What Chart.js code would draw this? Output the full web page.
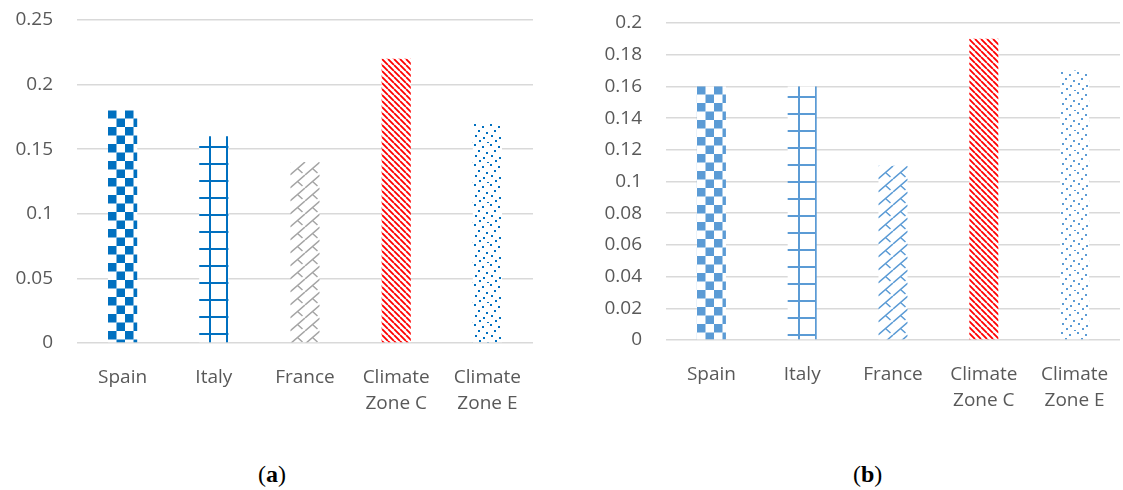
<!DOCTYPE html>
<html>
<head>
<meta charset="utf-8">
<script src="https://cdn.jsdelivr.net/npm/chart.js@4/dist/chart.umd.min.js"></script>
<style>
  body { margin: 0; background: #fff; width: 1123px; height: 490px; position: relative; overflow: hidden; }
  .painel { position: absolute; top: 0; height: 420px; }
  #painelA { left: 0; width: 560px; }
  #painelB { left: 560px; width: 563px; }
  .legenda { position: absolute; top: 461px; font-family: "Liberation Serif", serif; font-size: 24px; color: #000; }
  .legenda b { font-weight: bold; }
</style>
</head>
<body>
<div class="painel" id="painelA"><canvas id="graficoA" width="560" height="420"></canvas></div>
<div class="painel" id="painelB"><canvas id="graficoB" width="563" height="420"></canvas></div>
<div class="legenda" style="left:258px">(<b>a</b>)</div>
<div class="legenda" style="left:853px">(<b>b</b>)</div>
<script>
// Dados
const categorias = [["Spain"], ["Italy"], ["France"], ["Climate", "Zone C"], ["Climate", "Zone E"]];
const valoresA = [0.18, 0.16, 0.14, 0.22, 0.17];
const valoresB = [0.16, 0.16, 0.11, 0.19, 0.17];
const eixoA = { max: 0.25, passo: 0.05 };
const eixoB = { max: 0.2, passo: 0.02 };

// =============================
// Padrões das barras
// =============================
function criarPadrao(w, h, desenhar) {
    const c = document.createElement("canvas");
    c.width = w; c.height = h;
    const g = c.getContext("2d");
    g.fillStyle = "#fff";
    g.fillRect(0, 0, w, h);
    desenhar(g);
    return g.createPattern(c, "repeat");
}

function xadrez(cor) {
    return criarPadrao(17, 17, g => {
        g.fillStyle = cor;
        g.fillRect(0, 0, 8.5, 8.5);
        g.fillRect(8.5, 8.5, 8.5, 8.5);
    });
}

function grade(cor) {
    return criarPadrao(17, 17, g => {
        g.fillStyle = cor;
        g.fillRect(0, 10, 17, 2);
        g.fillRect(10, 0, 2, 17);
    });
}

// tijolo diagonal: "/" com um pequeno traço "\"
function tijolo(cor) {
    return criarPadrao(15, 13, g => {
        g.strokeStyle = cor;
        g.lineWidth = 1.5;
        g.beginPath();
        for (let k = -1; k <= 1; k++) {
            g.moveTo(k * 15, 13);
            g.lineTo(k * 15 + 15, 0);
        }
        g.moveTo(7.5, 6.5);
        g.lineTo(12.5, 11);
        g.stroke();
    });
}

function listras(cor) {
    return criarPadrao(6, 6, g => {
        g.strokeStyle = cor;
        g.lineWidth = 1.8;
        g.beginPath();
        for (let k = -1; k <= 1; k++) {
            g.moveTo(k * 6, 0);
            g.lineTo(k * 6 + 6, 6);
        }
        g.stroke();
    });
}

function pontos(cor) {
    const pts = [[1, 1], [9, 3], [5, 7], [13, 9], [2, 12], [10, 14], [6, 17], [14, 19]];
    return criarPadrao(16, 20, g => {
        g.fillStyle = cor;
        pts.forEach(p => g.fillRect(p[0], p[1] % 20, 2, 2));
    });
}

// ancora o padrão no canto de cada barra
const ancorarPadroes = {
    id: "ancorarPadroes",
    beforeDatasetsDraw(chart) {
        chart.getDatasetMeta(0).data.forEach(bar => {
            const p = bar.options.backgroundColor;
            if (p && p.setTransform) {
                const esq = Math.round(bar.x - bar.width / 2);
                p.setTransform(new DOMMatrix().translate(esq, Math.round(bar.y)));
            }
        });
    }
};

function montarGrafico(id, valores, eixo, padroes, larguraEixo, padding) {
    const ctx = document.getElementById(id).getContext("2d");
    return new Chart(ctx, {
        type: "bar",
        data: {
            labels: categorias,
            datasets: [{
                data: valores,
                backgroundColor: padroes,
                borderWidth: 0,
                categoryPercentage: 1,
                barPercentage: 0.32
            }]
        },
        plugins: [ancorarPadroes],
        options: {
            responsive: false,
            animation: false,
            layout: { padding: padding },
            plugins: { legend: { display: false }, tooltip: { enabled: false } },
            scales: {
                x: {
                    grid: { display: false },
                    border: { display: false },
                    ticks: {
                        color: "#595959",
                        padding: 13,
                        maxRotation: 0,
                        font: { family: "Open Sans", size: 19, lineHeight: 1.38 }
                    },
                    afterFit: s => {
                        s.height = 420 - padding.bottom - padding.plotBottom;
                        s.paddingLeft = 0; s.paddingRight = 0;
                    }
                },
                y: {
                    min: 0,
                    max: eixo.max,
                    grid: { color: "#D9D9D9", lineWidth: 1.5, drawTicks: false },
                    border: { display: false },
                    ticks: {
                        stepSize: eixo.passo,
                        color: "#595959",
                        padding: 24,
                        font: { family: "Open Sans", size: 19 },
                        callback: v => String(+v.toFixed(2))
                    },
                    afterFit: s => {
                        s.width = larguraEixo;
                        s.paddingTop = 0; s.paddingBottom = 0;
                    }
                }
            }
        }
    });
}

montarGrafico("graficoA", valoresA, eixoA,
    [xadrez("#0070C0"), grade("#0070C0"), tijolo("#A5A5A5"), listras("#FF0000"), pontos("#0070C0")],
    77, { top: 20, right: 27, bottom: 0, left: 0, plotBottom: 343 });

montarGrafico("graficoB", valoresB, eixoB,
    [xadrez("#5B9BD5"), grade("#5B9BD5"), tijolo("#5B9BD5"), listras("#FF0000"), pontos("#5B9BD5")],
    106, { top: 23, right: 3, bottom: 0, left: 0, plotBottom: 340 });
</script>
</body>
</html>
